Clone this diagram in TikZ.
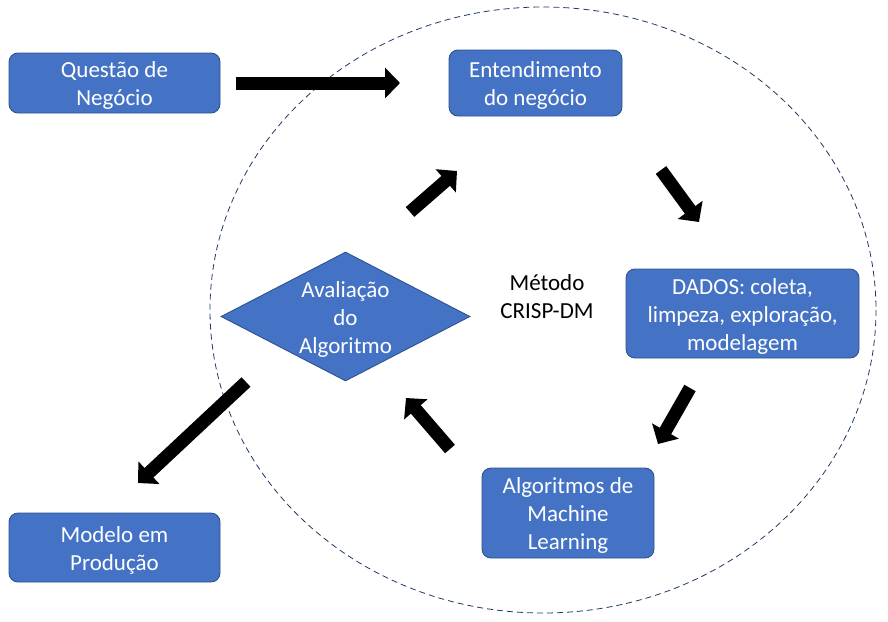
\documentclass[tikz,border=0pt]{standalone}
\usepackage{fontspec}
\setmainfont{Carlito}
\usetikzlibrary{arrows.meta,shapes.geometric}
\definecolor{boxfill}{RGB}{68,114,196}
\definecolor{boxline}{RGB}{47,82,143}
\definecolor{circline}{RGB}{32,56,100}
\tikzset{
  box/.style={draw=boxline, fill=boxfill, line width=0.9pt, rounded corners=9pt,
    text=white, align=center, font=\fontsize{23}{28}\selectfont, inner sep=0pt},
  boxtext/.style={align=center, text=white, font=\fontsize{23}{28}\selectfont, inner sep=0pt, yshift=-2.5pt},
  blockarrow/.style={line width=13pt, -{Triangle[length=15pt,width=30pt]}},
  lbl/.style={align=center, font=\fontsize{23}{28}\selectfont, inner sep=0pt}
}
\begin{document}
\begin{tikzpicture}[x=1pt,y=-1pt]
\useasboundingbox (0,0) rectangle (888,621);
% dashed circle
\draw[circline, dashed, dash pattern=on 6pt off 4pt, line width=0.8pt] (543,310) ellipse [x radius=333, y radius=303];
% boxes
\node[box, minimum width=211, minimum height=60] (q) at (114.5,83) {};
\node[boxtext] (qt) at (q.center) {Questão de\\Negócio};
\node[box, minimum width=173, minimum height=66] (e) at (535.5,83) {};
\node[boxtext] (et) at (e.center) {Entendimento\\do negócio};
\node[box, minimum width=233, minimum height=89] (d) at (742.5,313.5) {};
\node[boxtext] (dt) at (d.center) {DADOS: coleta,\\limpeza, exploração,\\modelagem};
\node[box, minimum width=172, minimum height=90] (ml) at (568,513) {};
\node[boxtext] (mlt) at (ml.center) {Algoritmos de\\Machine\\Learning};
\node[box, minimum width=211, minimum height=69] (m) at (114.5,547.5) {};
\node[boxtext] (mt) at (m.center) {Modelo em\\Produção};
% diamond
\node[diamond, draw=boxline, fill=boxfill, line width=0.9pt, minimum width=249, minimum height=129, inner sep=0pt] (av) at (345.5,316.5) {};
\node[lbl, text=white] (avt) at (345.5,319) {Avaliação\\do\\Algoritmo};
% center label
\node[lbl, text=black] (crisp) at (547,296.5) {Método\\CRISP-DM};
% arrow coordinates
\coordinate (a1s) at (236,83);  \coordinate (a1e) at (400,83);
\coordinate (a2s) at (410,212); \coordinate (a2e) at (457,171);
\coordinate (a3s) at (661,170); \coordinate (a3e) at (699,222);
\coordinate (a4s) at (690,388); \coordinate (a4e) at (658,444);
\coordinate (a5s) at (450,449); \coordinate (a5e) at (406,398);
\coordinate (a6s) at (246,382); \coordinate (a6e) at (138,483);
\draw[blockarrow] (a1s) -- (a1e);
\draw[blockarrow] (a2s) -- (a2e);
\draw[blockarrow] (a3s) -- (a3e);
\draw[blockarrow] (a4s) -- (a4e);
\draw[blockarrow] (a5s) -- (a5e);
\draw[blockarrow] (a6s) -- (a6e);
\end{tikzpicture}
\end{document}
